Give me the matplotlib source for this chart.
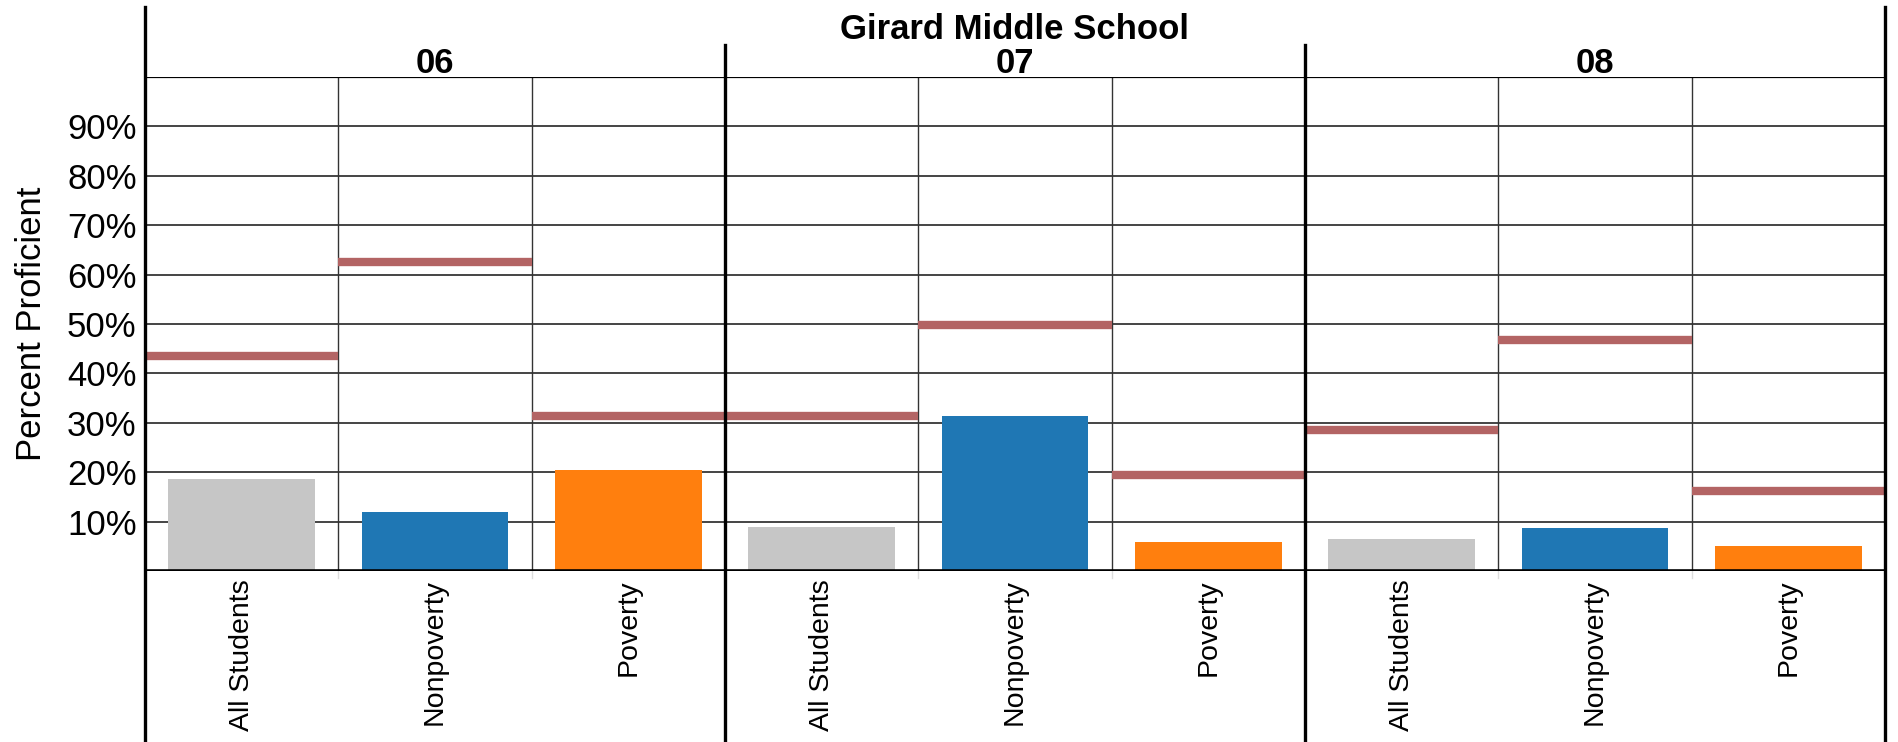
import matplotlib
matplotlib.use("Agg")
import matplotlib.pyplot as plt
import matplotlib.transforms as mtransforms
from matplotlib.lines import Line2D

plt.rcParams['font.family'] = ['Liberation Sans', 'DejaVu Sans']

#%%
school = "Girard Middle School"
grades = ["06", "07", "08"]
groups = ["All Students", "Nonpoverty", "Poverty"]
group_colors = ["#c6c6c6", "#1f77b4", "#ff7f0e"]

# percent proficient (bars) per grade, per group
school_pct = [
    [18.7, 11.9, 20.4],
    [8.9, 31.4, 5.8],
    [6.4, 8.7, 5.0],
]
# comparison level (red line) per grade, per group
state_pct = [
    [43.5, 62.6, 31.4],
    [31.4, 49.7, 19.5],
    [28.6, 46.7, 16.2],
]
yticks = [10, 20, 30, 40, 50, 60, 70, 80, 90]

#%%
W, H = 1898, 742
fig = plt.figure(figsize=(W / 100, H / 100), dpi=100)
ax = fig.add_axes([145 / W, 1 - 571 / H, (1885 - 145) / W, (571 - 77) / H])

n_g = len(groups)
n = len(grades) * n_g
for gi, grade in enumerate(grades):
    for ki, grp in enumerate(groups):
        i = gi * n_g + ki
        ax.bar(i + 0.5, school_pct[gi][ki], width=0.76, color=group_colors[ki], zorder=3)
        ax.hlines(state_pct[gi][ki], i, i + 1, color="#b36464", lw=6, zorder=4)

ax.set_xlim(0, n)
ax.set_ylim(0, 100)
ax.set_yticks(yticks)
ax.set_yticklabels([f"{t}%" for t in yticks], fontsize=25)
ax.set_xticks([i + 0.5 for i in range(n)])
ax.set_xticklabels(groups * len(grades), rotation=90, fontsize=20.5, va="top")
ax.tick_params(axis="both", length=0)
ax.tick_params(axis="y", pad=6)
ax.tick_params(axis="x", pad=6)
ax.set_ylabel("Percent Proficient", fontsize=25, labelpad=14)

for t in yticks:
    ax.axhline(t, color="#444444", lw=1.4, zorder=1)
for s in range(1, n):
    if s % n_g:
        ax.axvline(s, color="#333333", lw=1.0, zorder=1)
        # little light stub below the baseline
        ax.plot([s, s], [0, -0.015], transform=ax.get_xaxis_transform(),
                color="#dddddd", lw=1.0, clip_on=False)

for side in ["left", "right", "bottom", "top"]:
    ax.spines[side].set_visible(False)
ax.axhline(100, color="black", lw=1.6, zorder=5)
ax.axhline(0, color="black", lw=2.6, zorder=5)

# lines spilling out of the axes (header row and below the labels)
trans = mtransforms.blended_transform_factory(ax.transData, fig.transFigure)
y_top = 1 - 7 / H
y_div = 1 - 45 / H
for x in [0, n]:
    fig.add_artist(Line2D([x, x], [0, y_top], transform=trans, color="black", lw=2.4))
for gi in range(1, len(grades)):
    x = gi * n_g
    fig.add_artist(Line2D([x, x], [0, y_div], transform=trans, color="black", lw=2.4))

for gi, grade in enumerate(grades):
    fig.text(gi * n_g + n_g / 2, 1 - 73 / H, grade, transform=trans, fontsize=25,
             fontweight="bold", ha="center", va="baseline")

fig.text(n / 2, 1 - 39 / H, school, transform=trans, fontsize=25, fontweight="bold",
         ha="center", va="baseline")

fig.savefig("out.png", dpi=100)
